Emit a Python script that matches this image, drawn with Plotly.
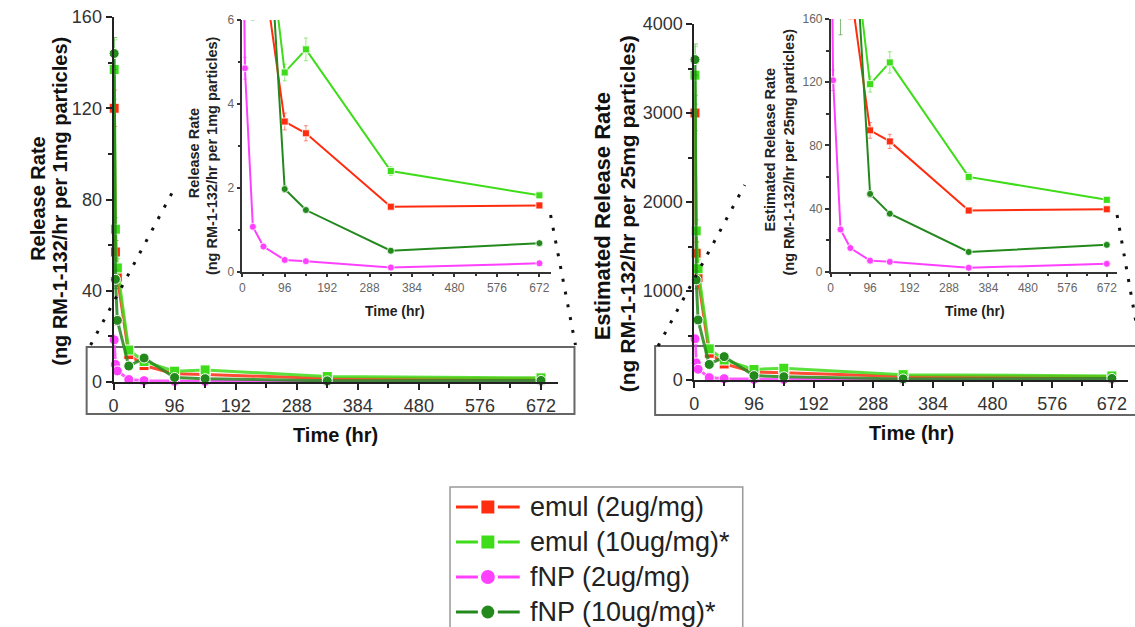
import plotly.graph_objects as go

W, H = 1135, 627
# vertical margin kept by the page layout; paper coordinates live inside it
M_TOP, M_BOT = 10, 10
FONT = "Liberation Sans, Arial, sans-serif"

# Sampling times (hr)
hours = [1, 3, 6, 24, 48, 96, 144, 336, 672]

# Release rate, ng RM-1-132/hr per 1 mg particles
emul_2 = [120, 57, 46, 12, 7.2, 3.58, 3.3, 1.55, 1.58]
emul_10 = [137, 67, 50, 14, 9.0, 4.75, 5.3, 2.4, 1.82]
fnp_2 = [18.5, 7.7, 4.85, 1.07, 0.6, 0.28, 0.25, 0.1, 0.2]
fnp_10 = [144, 45, 27, 7.0, 10.5, 1.97, 1.47, 0.5, 0.68]

# Standard deviations
emul_2_sd = [8, 5, 4, 1.5, 0.8, 0.2, 0.18, 0.06, 0.06]
emul_10_sd = [13, 5, 4, 1.5, 1.0, 0.2, 0.27, 0.1, 0.06]
fnp_2_sd = [2, 0.8, 0.26, 0.06, 0.04, 0.03, 0.03, 0.02, 0.02]
fnp_10_sd = [7, 4, 2, 1.0, 1.0, 0.08, 0.06, 0.04, 0.04]

# Right-hand panels: estimated rate for a 25 mg particle dose
dose_mg = 25

series = [
    ("emul (2ug/mg)", emul_2, emul_2_sd, "#ff2d10", "square"),
    ("emul (10ug/mg)*", emul_10, emul_10_sd, "#3fdc1a", "square"),
    ("fNP (2ug/mg)", fnp_2, fnp_2_sd, "#ff40ff", "circle"),
    ("fNP (10ug/mg)*", fnp_10, fnp_10_sd, "#23891c", "circle"),
]


def px(x):
    """Pixel column -> paper x."""
    return x / W


def py(y):
    """Pixel row -> paper y."""
    return 1 - (y - M_TOP) / (H - M_TOP - M_BOT)


def rgba(hexc, a):
    h = hexc.lstrip("#")
    r, g, b = int(h[0:2], 16), int(h[2:4], 16), int(h[4:6], 16)
    return f"rgba({r},{g},{b},{a})"


fig = go.Figure()

panels = [
    # (xaxis, yaxis, scale, inset?)
    ("x", "y", 1, False),
    ("x2", "y2", 1, True),
    ("x3", "y3", dose_mg, False),
    ("x4", "y4", dose_mg, True),
]

for xa, ya, scale, inset in panels:
    for name, vals, sd, color, sym in series:
        fig.add_trace(go.Scatter(
            x=hours,
            y=[v * scale for v in vals],
            error_y=dict(type="data", array=[s * scale for s in sd],
                         color=rgba(color, 0.55), thickness=1,
                         width=2 if inset else 3),
            mode="lines+markers",
            name=name,
            showlegend=False,
            xaxis=xa, yaxis=ya,
            cliponaxis=inset,
            line=dict(color=rgba(color, 1.0 if inset else 0.85),
                      width=2 if inset else 3),
            marker=dict(symbol=sym, color=color,
                        size=7 if inset else 10,
                        line=dict(color="white", width=0.8 if inset else 1)),
        ))

x_ticks = [0, 96, 192, 288, 384, 480, 576, 672]


def main_x(dom):
    return dict(domain=dom, range=[0, 698], tickvals=x_ticks,
                showline=True, linecolor="#222", linewidth=2,
                ticks="outside", ticklen=6, tickwidth=2, tickcolor="#222",
                tickfont=dict(size=18, color="#333", family=FONT),
                minor=dict(dtick=48, tick0=0, ticks="outside", ticklen=4,
                           tickwidth=2, tickcolor="#222", showgrid=False),
                showgrid=False, zeroline=False)


def main_y(dom, rng, dtick):
    return dict(domain=dom, range=rng, dtick=dtick,
                showline=True, linecolor="#222", linewidth=2,
                ticks="outside", ticklen=6, tickwidth=2, tickcolor="#222",
                tickfont=dict(size=18, color="#333", family=FONT),
                minor=dict(dtick=dtick / 2, ticks="outside", ticklen=4,
                           tickwidth=2, tickcolor="#222", showgrid=False),
                showgrid=False, zeroline=False)


def inset_x(dom, anchor):
    return dict(domain=dom, range=[0, 698], tickvals=x_ticks, anchor=anchor,
                showline=True, linecolor="#333", linewidth=1.5,
                ticks="outside", ticklen=4, tickwidth=1.5, tickcolor="#333",
                tickfont=dict(size=12, color="#666", family=FONT),
                minor=dict(dtick=48, tick0=0, ticks="outside", ticklen=3,
                           tickwidth=1.5, tickcolor="#333", showgrid=False),
                showgrid=False, zeroline=False)


def inset_y(dom, rng, dtick, anchor):
    return dict(domain=dom, range=rng, dtick=dtick, anchor=anchor,
                showline=True, linecolor="#333", linewidth=1.5,
                ticks="outside", ticklen=4, tickwidth=1.5, tickcolor="#333",
                tickfont=dict(size=12, color="#666", family=FONT),
                minor=dict(dtick=dtick / 2, ticks="outside", ticklen=3,
                           tickwidth=1.5, tickcolor="#333", showgrid=False),
                showgrid=False, zeroline=False)


fig.update_layout(
    xaxis=dict(main_x([px(109), px(555)]), anchor="y"),
    yaxis=dict(main_y([py(382), py(17)], [0, 160], 40), anchor="x"),
    xaxis2=inset_x([px(238.3), px(548.3)], "y2"),
    yaxis2=inset_y([py(271.7), py(20)], [0, 6], 2, "x2"),
    xaxis3=dict(main_x([px(692.4), px(1128)]), anchor="y3"),
    yaxis3=dict(main_y([py(380), py(24)], [0, 4000], 1000), anchor="x3"),
    xaxis4=inset_x([px(829.3), px(1117.4)], "y4"),
    yaxis4=inset_y([py(271.7), py(19)], [0, 160], 40, "x4"),
)

# ---- texts ----
ann = []


def text(x, y, s, size, angle=0, bold=True, color="#111", xanchor="center"):
    ann.append(dict(x=px(x), y=py(y), xref="paper", yref="paper",
                    text=f"<b>{s}</b>" if bold else s, showarrow=False,
                    textangle=angle, xanchor=xanchor, yanchor="middle",
                    font=dict(size=size, color=color, family=FONT)))


# main axis titles
text(33, 198, "Release Rate", 20, -90)
text(55, 201, "(ng RM-1-132/hr per 1mg particles)", 20, -90)
text(332, 435, "Time (hr)", 20)
text(601, 216, "Estimated Release Rate", 22, -90)
text(625, 214, "(ng RM-1-132/hr per 25mg particles)", 21, -90)
text(911, 433, "Time (hr)", 20)

# inset axis titles
text(190, 153, "Release Rate", 14.5, -90, color="#222")
text(208, 156, "(ng RM-1-132/hr per 1mg particles)", 14.5, -90, color="#222")
text(392, 311, "Time (hr)", 14, color="#222")
text(768, 150, "Estimated Release Rate", 14.5, -90, color="#222")
text(787, 152, "(ng RM-1-132/hr per 25mg particles)", 14.5, -90, color="#222")
text(974, 311, "Time (hr)", 14, color="#222")

# ---- shapes: zoom boxes, connector dots, legend ----
shapes = []


def rect(x0, y0, x1, y1, color="#666", width=2, fill=None):
    shapes.append(dict(type="rect", xref="paper", yref="paper",
                       x0=px(x0), x1=px(x1), y0=py(y1), y1=py(y0),
                       line=dict(color=color, width=width),
                       fillcolor=fill or "rgba(0,0,0,0)", layer="below"))


def dots(x0, y0, x1, y1):
    shapes.append(dict(type="line", xref="paper", yref="paper",
                       x0=px(x0), y0=py(y0), x1=px(x1), y1=py(y1),
                       line=dict(color="#111", width=3, dash="3px,10px")))


rect(82, 347, 572, 414)
rect(653, 346, 1150, 415)
dots(86, 345, 172, 185)
dots(548, 215, 573, 345)
dots(656, 346, 743, 185)
dots(1117, 215, 1140, 345)

# legend box
rect(447, 487, 741, 660, color="#999", width=1.5)
leg_y = [507, 542, 577, 612]
for (name, vals, sd, color, sym), yy in zip(series, leg_y):
    for xa, xb in [(453, 475), (495, 517)]:
        shapes.append(dict(type="line", xref="paper", yref="paper",
                           x0=px(xa), x1=px(xb), y0=py(yy), y1=py(yy),
                           line=dict(color=color, width=3)))
    r = 6.5 if sym == "square" else 7
    if sym == "circle" and color == "#23891c":
        r = 6.5
    shapes.append(dict(type="rect" if sym == "square" else "circle",
                       xref="paper", yref="paper",
                       x0=px(485 - r), x1=px(485 + r),
                       y0=py(yy + r), y1=py(yy - r),
                       line=dict(color=color, width=0), fillcolor=color))
    text(525, yy, name, 27, bold=False, color="#222", xanchor="left")

fig.update_layout(
    width=W, height=H,
    margin=dict(l=0, r=0, t=M_TOP, b=M_BOT),
    paper_bgcolor="white",
    plot_bgcolor="rgba(0,0,0,0)",
    showlegend=False,
    annotations=ann,
    shapes=shapes,
    font=dict(family=FONT),
)

fig.write_html("out.html")
